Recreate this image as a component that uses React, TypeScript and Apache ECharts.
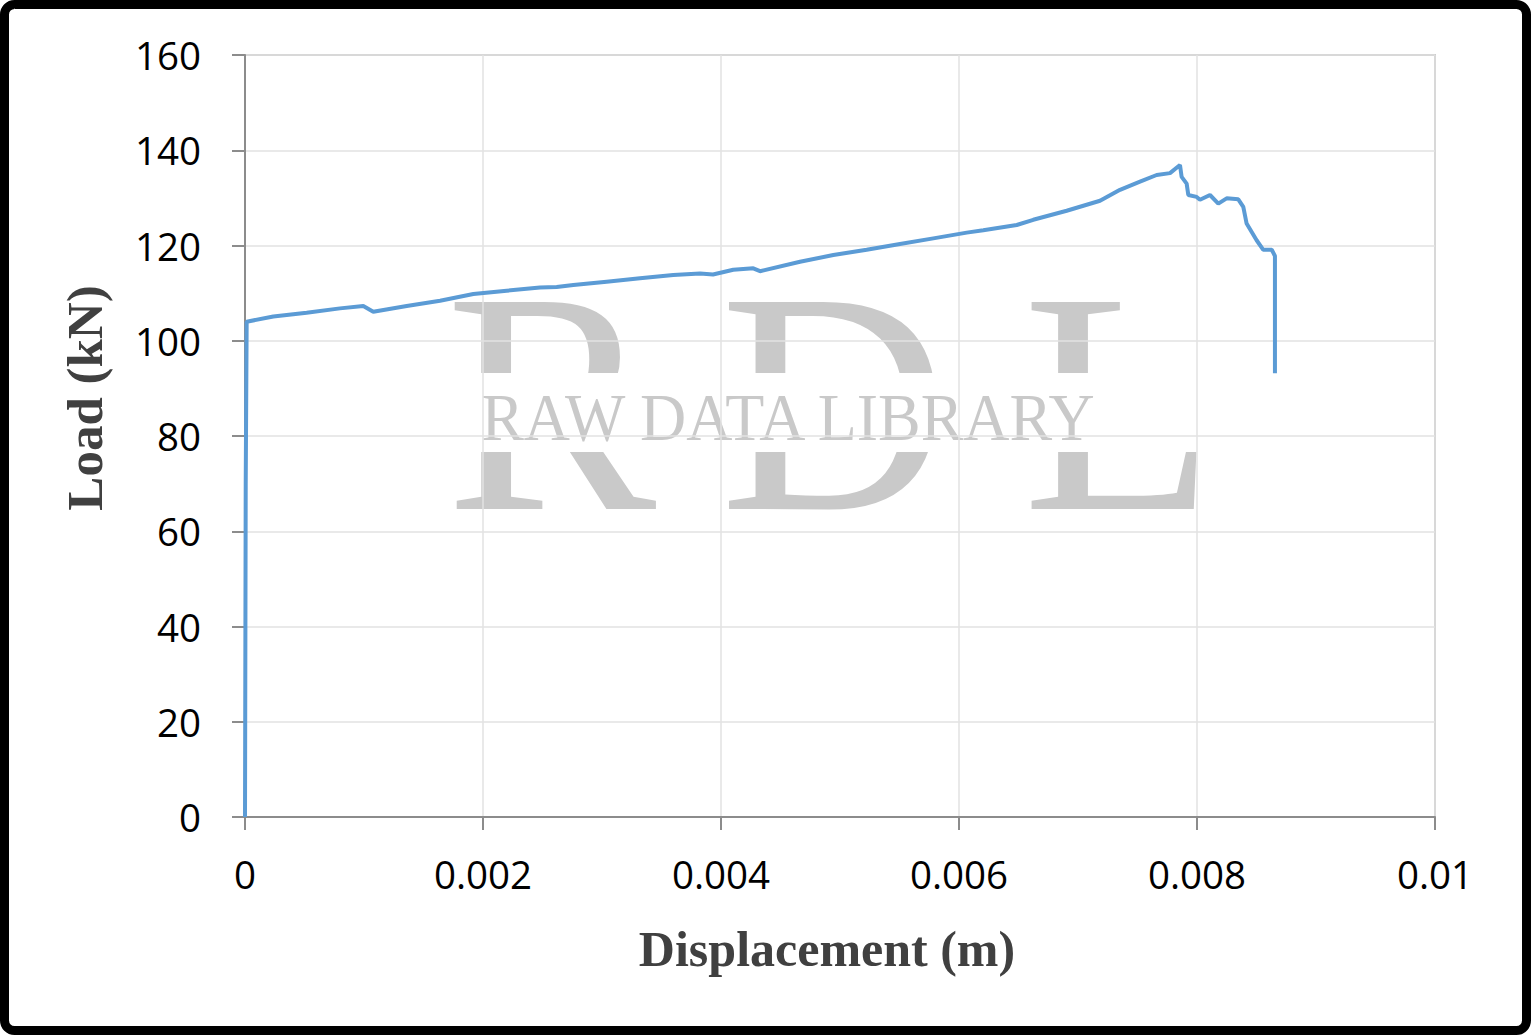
import React, { useEffect, useRef } from "react";
import * as echarts from "echarts";

const displacement = [
  0, 0.000006, 0.000014, 0.000238, 0.000518, 0.000798, 0.000994, 0.001078,
  0.001359, 0.001639, 0.001919, 0.002199, 0.002479, 0.002619, 0.002759,
  0.003039, 0.003319, 0.003599, 0.003824, 0.003933, 0.004103, 0.004271,
  0.004328, 0.004664, 0.004944, 0.005224, 0.005504, 0.005784, 0.006065,
  0.006204, 0.006485, 0.006624, 0.006905, 0.007185, 0.007353, 0.007521,
  0.007661, 0.007773, 0.007857, 0.007871, 0.007913, 0.007927, 0.007997,
  0.008025, 0.008109, 0.008179, 0.008249, 0.008347, 0.008389, 0.008417,
  0.008501, 0.008557, 0.008628, 0.008655, 0.008655,
];
const load = [
  0, 70, 104.0, 105.1, 105.9, 106.8, 107.3, 106.1, 107.3, 108.4, 109.8, 110.5,
  111.2, 111.3, 111.7, 112.4, 113.1, 113.8, 114.1, 113.9, 114.9, 115.2, 114.6,
  116.6, 118.0, 119.1, 120.3, 121.5, 122.7, 123.2, 124.3, 125.4, 127.3, 129.4,
  131.7, 133.4, 134.8, 135.2, 136.9, 134.4, 133.0, 130.6, 130.2, 129.6, 130.6,
  128.8, 129.9, 129.7, 128.1, 124.6, 121.1, 119.1, 119.1, 117.8, 93.2,
];

const xTitle = "Displacement (m)";
const yTitle = "Load (kN)";
const watermarkLetters = ["R", "D", "L"];
const watermarkText = "RAW DATA LIBRARY";

export default function App() {
  const ref = useRef<HTMLDivElement>(null);
  useEffect(() => {
    document.body.style.margin = "0";
    const chart = echarts.init(ref.current!, null, { renderer: "svg" });
    const tickFont = '"Open Sans", "Noto Sans", sans-serif';
    const letterX = [551, 834, 1119];
    chart.setOption({
      animation: false,
      backgroundColor: "#ffffff",
      grid: {
        left: 245,
        top: 55,
        right: 96,
        bottom: 218,
        show: true,
        borderColor: "#a6a6a6",
        borderWidth: 1.5,
        backgroundColor: "transparent",
      },
      xAxis: {
        type: "value",
        min: 0,
        max: 0.01,
        interval: 0.002,
        axisLine: { show: true, onZero: false, lineStyle: { color: "#8c8c8c", width: 2 } },
        axisTick: { show: true, length: 13, lineStyle: { color: "#8c8c8c", width: 2 } },
        splitLine: { show: true, lineStyle: { color: "#e2e2e2", width: 1.5 } },
        axisLabel: {
          margin: 37,
          color: "#000",
          fontSize: 38.5,
          fontFamily: tickFont,
          formatter: (v: number) => String(parseFloat(v.toFixed(4))),
        },
      },
      yAxis: {
        type: "value",
        min: 0,
        max: 160,
        interval: 20,
        axisLine: { show: true, lineStyle: { color: "#8c8c8c", width: 2 } },
        axisTick: { show: true, length: 13, lineStyle: { color: "#8c8c8c", width: 2 } },
        splitLine: { show: true, lineStyle: { color: "#e2e2e2", width: 1.5 } },
        axisLabel: {
          margin: 44,
          color: "#000",
          fontSize: 38.5,
          fontFamily: tickFont,
          verticalAlign: "middle",
          padding: [0, 0, 3, 0],
        },
      },
      graphic: [
        ...watermarkLetters.map((t, i) => ({
          type: "text",
          x: letterX[i],
          y: 402,
          scaleX: 1.0,
          z: -2,
          silent: true,
          style: {
            text: t,
            fill: "#c9c9c9",
            font: '316px "Liberation Serif", "DejaVu Serif", serif',
            textAlign: "center",
            textVerticalAlign: "middle",
          },
        })),
        {
          type: "rect",
          z: -1,
          silent: true,
          shape: { x: 420, y: 373, width: 820, height: 79 },
          style: { fill: "#ffffff" },
        },
        {
          type: "text",
          x: 788,
          y: 417,
          scaleX: 0.94,
          z: -1,
          z2: 10,
          silent: true,
          style: {
            text: watermarkText,
            fill: "#c9c9c9",
            font: '68px "Liberation Serif", "DejaVu Serif", serif',
            textAlign: "center",
            textVerticalAlign: "middle",
          },
        },
        {
          type: "text",
          x: 827,
          y: 949,
          z: 10,
          style: {
            text: xTitle,
            fill: "#404040",
            font: 'bold 50px "Liberation Serif", "DejaVu Serif", serif',
            textAlign: "center",
            textVerticalAlign: "middle",
          },
        },
        {
          type: "text",
          x: 85,
          y: 398,
          rotation: Math.PI / 2,
          z: 10,
          style: {
            text: yTitle,
            fill: "#404040",
            font: 'bold 51px "Liberation Serif", "DejaVu Serif", serif',
            textAlign: "center",
            textVerticalAlign: "middle",
          },
        },
        {
          type: "rect",
          z: 100,
          silent: true,
          shape: { x: 4.5, y: 4.5, width: 1522, height: 1026, r: 10 },
          style: { fill: "none", stroke: "#000", lineWidth: 9 },
        },
      ],
      series: [
        {
          type: "line",
          data: displacement.map((d, i) => [d, load[i]]),
          showSymbol: false,
          symbol: "none",
          z: 5,
          lineStyle: { color: "#5B9BD5", width: 4 },
        },
      ],
    });
    return () => chart.dispose();
  }, []);
  return <div ref={ref} style={{ width: 1531, height: 1035 }} />;
}
